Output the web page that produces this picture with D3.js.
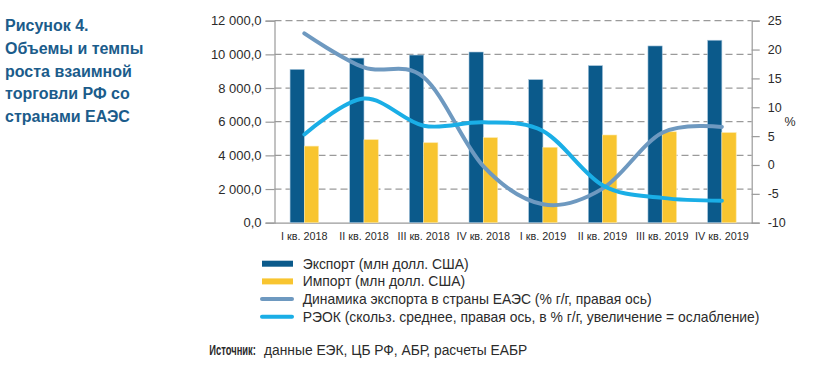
<!DOCTYPE html>
<html><head><meta charset="utf-8">
<script src="https://cdn.jsdelivr.net/npm/d3@7"></script>
<style>
html,body{margin:0;padding:0;background:#fff;}
svg{display:block;font-family:"Liberation Sans",Arial,sans-serif;}
</style></head>
<body>
<svg id="c" width="839" height="366"></svg>
<script>
const categories = ["I кв. 2018","II кв. 2018","III кв. 2018","IV кв. 2018","I кв. 2019","II кв. 2019","III кв. 2019","IV кв. 2019"];
const exportVals = [9110, 9780, 9960, 10140, 8500, 9330, 10500, 10840];
const importVals = [4550, 4930, 4750, 5050, 4480, 5210, 5400, 5350];
const exportDyn = [22.8, 16.9, 15.2, -0.2, -6.8, -4.1, 5.6, 6.6];
const reerVals = [5.3, 11.5, 6.8, 7.4, 5.9, -3.5, -5.7, -6.2];
const leftTicks = [0, 2000, 4000, 6000, 8000, 10000, 12000];
const leftTickLabels = ["0,0","2 000,0","4 000,0","6 000,0","8 000,0","10 000,0","12 000,0"];
const rightTicks = [-10, -5, 0, 5, 10, 15, 20, 25];
const titleLines = ["Рисунок 4.","Объемы и темпы","роста взаимной","торговли РФ со","странами ЕАЭС"];
const legendItems = [
  {label:"Экспорт (млн долл. США)", type:"bar", color:"#0b5a8b"},
  {label:"Импорт (млн долл. США)", type:"bar", color:"#f8c530"},
  {label:"Динамика экспорта в страны ЕАЭС (% г/г, правая ось)", type:"line", color:"#6e99c0"},
  {label:"РЭОК (скольз. среднее, правая ось, в % г/г, увеличение = ослабление)", type:"line", color:"#1aaee6"}
];
const sourceLabel = "Источник:";
const sourceText = "данные ЕЭК, ЦБ РФ, АБР, расчеты ЕАБР";

(function(){
const svg = d3.select("#c");
const pL = 274.5, pR = 751.7, pT = 20.7, pB = 222.7;

const x = d3.scaleBand().domain(categories).range([pL, pR]).padding(0);
const sub = d3.scaleBand().domain(["exp","imp"]).range([0, x.bandwidth()]).paddingInner(0).paddingOuter(1.09);
const yL = d3.scaleLinear().domain([0, 12000]).range([pB, pT]);
const yR = d3.scaleLinear().domain([-10, 25]).range([pB, pT]);

// title
const tt = svg.append("text").attr("x", 5).attr("font-weight", "bold").attr("font-size", 16).attr("fill", "#1b5c8b");
titleLines.forEach((l, i) => tt.append("tspan").attr("x", 5).attr("y", 31 + i * 22.8).text(l));

// gridlines
svg.append("g").selectAll("line").data(leftTicks.slice(1)).join("line")
  .attr("x1", pL).attr("x2", pR)
  .attr("y1", d => yL(d)).attr("y2", d => yL(d))
  .attr("stroke", "#9a9a9a").attr("stroke-width", 1.2).attr("stroke-dasharray", "7,4");

// left axis
const gL = svg.append("g").attr("transform", `translate(${pL},0)`)
  .call(d3.axisLeft(yL).tickValues(leftTicks).tickFormat((d, i) => leftTickLabels[i]).tickSize(9).tickPadding(4));
gL.select(".domain").attr("stroke", "#9a9a9a").attr("stroke-width", 1.2);
gL.selectAll(".tick line").attr("stroke", "#9a9a9a").attr("stroke-width", 1.2);
gL.selectAll(".tick text").attr("font-size", 13).attr("fill", "#2b2b2b").attr("font-family", "Liberation Sans, Arial, sans-serif");

// right axis
const gR = svg.append("g").attr("transform", `translate(${pR},0)`)
  .call(d3.axisRight(yR).tickValues(rightTicks).tickSize(8).tickPadding(8));
gR.select(".domain").attr("stroke", "#9a9a9a").attr("stroke-width", 1.2);
gR.selectAll(".tick line").attr("stroke", "#9a9a9a").attr("stroke-width", 1.2);
gR.selectAll(".tick text").attr("font-size", 12.5).attr("fill", "#2b2b2b").attr("font-family", "Liberation Sans, Arial, sans-serif")
  .text(d => d < 0 ? "-" + Math.abs(d) : d);
svg.append("text").attr("x", 790).attr("y", 126).attr("font-size", 12.5).attr("fill", "#2b2b2b").attr("text-anchor", "middle").text("%");

// bottom axis
const gB = svg.append("g").attr("transform", `translate(0,${pB})`)
  .call(d3.axisBottom(x).tickSize(0).tickPadding(10));
gB.select(".domain").attr("stroke", "#9a9a9a").attr("stroke-width", 1.2);
gB.selectAll(".tick text").attr("font-size", 10.8).attr("fill", "#2b2b2b").attr("font-family", "Liberation Sans, Arial, sans-serif");

// bars
svg.append("g").selectAll("rect").data(exportVals).join("rect")
  .attr("x", (d, i) => x(categories[i]) + sub("exp")).attr("width", sub.bandwidth())
  .attr("y", d => yL(d)).attr("height", d => yL(0) - yL(d))
  .attr("fill", "#0b5a8b").attr("stroke", "#a9c6dc").attr("stroke-width", 0.6);
svg.append("g").selectAll("rect").data(importVals).join("rect")
  .attr("x", (d, i) => x(categories[i]) + sub("imp")).attr("width", sub.bandwidth())
  .attr("y", d => yL(d)).attr("height", d => yL(0) - yL(d))
  .attr("fill", "#f8c530").attr("stroke", "#fbe7a6").attr("stroke-width", 0.6);

// lines
const cx = (d, i) => x(categories[i]) + x.bandwidth() / 2;
const line = d3.line().x(cx).y(d => yR(d)).curve(d3.curveCardinal.tension(0));
svg.append("path").attr("d", line(exportDyn)).attr("fill", "none").attr("stroke", "#6e99c0")
  .attr("stroke-width", 4).attr("stroke-linecap", "round");
svg.append("path").attr("d", line(reerVals)).attr("fill", "none").attr("stroke", "#1aaee6")
  .attr("stroke-width", 4).attr("stroke-linecap", "round");

// legend
const lg = svg.append("g");
legendItems.forEach((it, i) => {
  const yy = 263.7 + i * 17.7;
  if (it.type === "bar") {
    lg.append("rect").attr("x", 262).attr("y", yy - 3).attr("width", 31).attr("height", 6).attr("fill", it.color);
  } else {
    lg.append("line").attr("x1", 262).attr("x2", 292).attr("y1", yy).attr("y2", yy)
      .attr("stroke", it.color).attr("stroke-width", 4).attr("stroke-linecap", "round");
  }
  lg.append("text").attr("x", 302.7).attr("y", yy + 5).attr("font-size", 13.9).attr("fill", "#2b2b2b").text(it.label);
});

// source
svg.append("text").attr("transform", "translate(209.3,355) scale(0.68,1)")
  .attr("font-size", 13.8).attr("font-weight", "bold").attr("fill", "#2b2b2b").text(sourceLabel);
svg.append("text").attr("x", 264).attr("y", 355).attr("font-size", 13.8).attr("fill", "#2b2b2b").text(sourceText);
})();
</script>
</body></html>
